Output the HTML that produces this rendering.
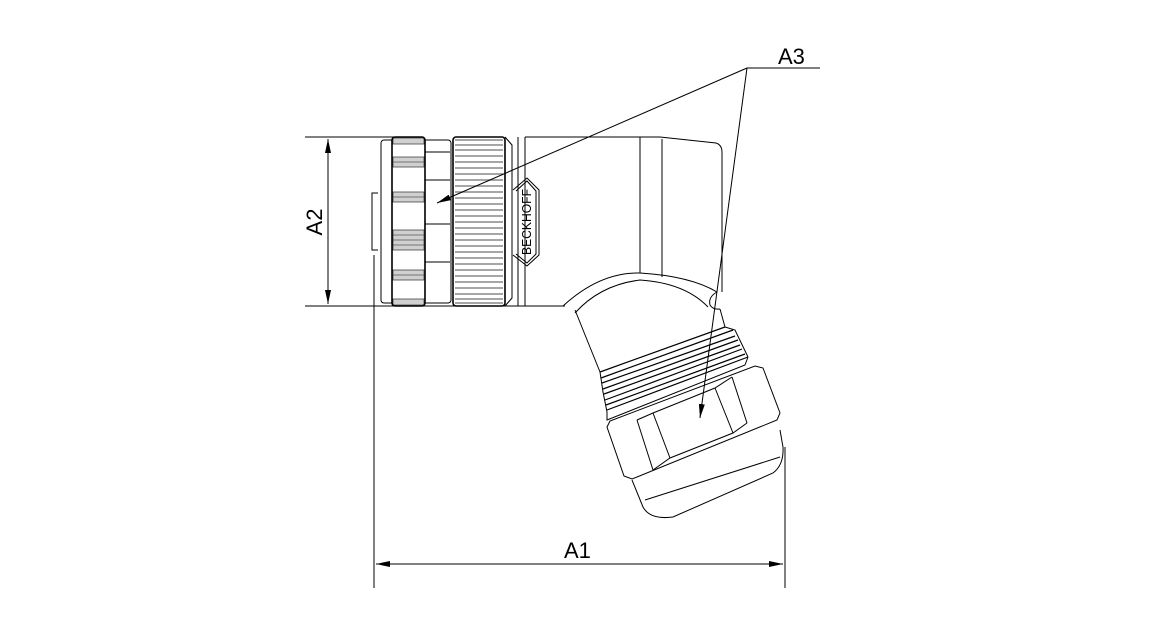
<!DOCTYPE html>
<html><head><style>html,body{margin:0;background:#fff}svg{display:block}</style></head>
<body>
<svg width="1160" height="633" viewBox="0 0 1160 633" xmlns="http://www.w3.org/2000/svg" font-family="Liberation Sans, sans-serif">
<defs>
<marker id="ar" markerWidth="14" markerHeight="6" refX="14" refY="3" orient="auto" markerUnits="userSpaceOnUse"><path d="M0,0 L14,3 L0,6 Z" fill="#000"/></marker>
</defs>
<g stroke="#000" fill="none" stroke-width="1">
<line x1="305" y1="137" x2="395" y2="137"/>
<line x1="305" y1="306" x2="565" y2="306"/>
<line x1="328" y1="139" x2="328" y2="304" marker-end="url(#ar)"/>
<line x1="328" y1="304" x2="328" y2="139" marker-end="url(#ar)"/>
<line x1="374" y1="255" x2="374" y2="588"/>
<line x1="785" y1="447" x2="785" y2="588"/>
<line x1="376" y1="564" x2="783" y2="564" marker-end="url(#ar)"/>
<line x1="783" y1="564" x2="376" y2="564" marker-end="url(#ar)"/>
<path d="M378,193 L372,193 L372,250 L378,250"/>
<rect x="381" y="140" width="70" height="163" rx="3"/>
<line x1="425" y1="152" x2="450" y2="152"/><line x1="425" y1="180" x2="450" y2="180"/>
<line x1="425" y1="224" x2="450" y2="224"/><line x1="425" y1="262" x2="450" y2="262"/>
<g fill="#d0d0d0" stroke="#444" stroke-width="0.8">
<rect x="393" y="138" width="31" height="6"/>
<rect x="393" y="157" width="31" height="10"/>
<rect x="393" y="192" width="31" height="10"/>
<rect x="393" y="230" width="31" height="20"/>
<rect x="393" y="270" width="31" height="10"/>
<rect x="393" y="299" width="31" height="6"/>
</g>
<g stroke="#555" stroke-width="0.8">
<line x1="393" y1="162" x2="424" y2="162"/><line x1="393" y1="197" x2="424" y2="197"/>
<line x1="393" y1="235" x2="424" y2="235"/><line x1="393" y1="240" x2="424" y2="240"/><line x1="393" y1="245" x2="424" y2="245"/>
<line x1="393" y1="275" x2="424" y2="275"/>
</g>
<rect x="392" y="137" width="33" height="169" rx="3" stroke-width="1.6"/>
<g stroke="#888" stroke-width="1.6">
<line x1="455" y1="140" x2="503" y2="140"/><line x1="455" y1="145" x2="503" y2="145"/><line x1="455" y1="150" x2="503" y2="150"/><line x1="455" y1="156" x2="503" y2="156"/><line x1="455" y1="162" x2="503" y2="162"/><line x1="455" y1="168" x2="503" y2="168"/><line x1="455" y1="174" x2="503" y2="174"/><line x1="455" y1="180" x2="503" y2="180"/><line x1="455" y1="186" x2="503" y2="186"/><line x1="455" y1="192" x2="503" y2="192"/><line x1="455" y1="198" x2="503" y2="198"/><line x1="455" y1="204" x2="503" y2="204"/><line x1="455" y1="210" x2="503" y2="210"/><line x1="455" y1="216" x2="503" y2="216"/><line x1="455" y1="222" x2="503" y2="222"/><line x1="455" y1="228" x2="503" y2="228"/><line x1="455" y1="234" x2="503" y2="234"/><line x1="455" y1="240" x2="503" y2="240"/><line x1="455" y1="246" x2="503" y2="246"/><line x1="455" y1="252" x2="503" y2="252"/><line x1="455" y1="258" x2="503" y2="258"/><line x1="455" y1="264" x2="503" y2="264"/><line x1="455" y1="270" x2="503" y2="270"/><line x1="455" y1="276" x2="503" y2="276"/><line x1="455" y1="282" x2="503" y2="282"/><line x1="455" y1="288" x2="503" y2="288"/><line x1="455" y1="294" x2="503" y2="294"/><line x1="455" y1="299" x2="503" y2="299"/><line x1="455" y1="303" x2="503" y2="303"/>
</g>
<rect x="453" y="137" width="52" height="169" rx="3" stroke-width="1.6"/>
<path d="M505,137 L512,145 L512,298 L505,306"/>
<line x1="518" y1="137" x2="518" y2="306"/><line x1="525" y1="137" x2="525" y2="306"/>
<path d="M513,190 L527,178 L539,190 L539,255 L527,266 L513,255"/>
<path d="M516,191 L527,181 L536,191 L536,254 L527,263 L516,254"/>
<path d="M525,137 L660,137 L716,143 Q722,145 722,152 L722,292"/>
<line x1="640" y1="137" x2="640" y2="273"/>
<line x1="662" y1="139" x2="662" y2="277"/>
<path d="M563,306 Q600,272 640,273 Q690,276 717,292"/>
<path d="M575,313 Q600,285 640,280 Q685,283 708,307"/>
<path d="M717,292 Q708,297 710,305 Q713,310 720,309"/>
<path d="M575,310 L600,372"/>
<path d="M720,309 L725,327"/>
<g stroke-width="1.2">
<path d="M600,372 L725,327"/>
<path d="M601,378 L733,330"/><path d="M602,383 L735,336"/>
<path d="M603,389 L738,340"/><path d="M604,394 L740,345"/>
<path d="M605,400 L742,349"/><path d="M606,405 L745,354"/>
<path d="M607,410 L748,357"/>
</g>
<path d="M600,372 L603,392 L607,412"/>
<path d="M725,327 L735,330 L748,357"/>
<path d="M607,412 L607,420 L745,365 L748,357"/>
<path d="M607,427 L610,421 L755,366 L763,368 L780,413 L777,420 L632,479 L624,476 Z"/>
<path d="M637,420 L653,470"/><path d="M653,413 L670,458"/>
<path d="M715,388 L733,433"/><path d="M732,377 L747,423"/>
<path d="M637,420 L653,413 L715,388 L732,377"/>
<path d="M653,470 L670,458 L733,433 L747,423"/>
<path d="M632,480 L643,507 Q650,520 673,517 L773,473 Q784,465 783,447 L780,430"/>
<line x1="645" y1="500" x2="780" y2="457"/>
<line x1="747" y1="68" x2="820" y2="68"/>
<line x1="747" y1="68" x2="437" y2="203" marker-end="url(#ar)"/>
<line x1="747" y1="68" x2="700" y2="418" marker-end="url(#ar)"/>
</g>
<text x="527" y="226" transform="rotate(-90 527 222)" font-size="13" text-anchor="middle" textLength="66" lengthAdjust="spacingAndGlyphs">BECKHOFF</text>
<text x="778" y="64" font-size="22">A3</text>
<text x="564" y="558" font-size="22">A1</text>
<text x="322" y="222" font-size="22" transform="rotate(-90 322 222)" text-anchor="middle">A2</text>
</svg>
</body></html>
